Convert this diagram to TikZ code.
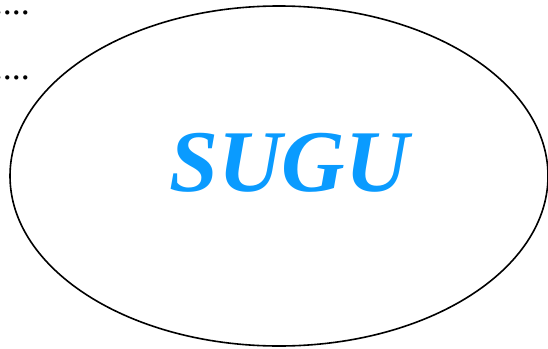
\documentclass[tikz,border=0pt]{standalone}
\usepackage{fontspec}
\setmainfont{Liberation Serif}
\usepackage{xcolor}
\usepackage{tikz}
\usetikzlibrary{positioning}

\definecolor{sugublue}{HTML}{0A9BFF}

\tikzset{
	dots/.style={anchor=base east, inner sep=0pt, font=\fontsize{36}{40}\selectfont},
	title/.style={inner sep=0pt, text=sugublue, font=\fontsize{88}{100}\selectfont\bfseries\itshape}
}

\begin{document}
\begin{tikzpicture}[x=1pt,y=-1pt]
		\useasboundingbox (0,0) rectangle (548,348);

		% Ellipse around the name
		\draw[line width=1.6pt] (279,176) ellipse (269 and 170);
		\node[title] (sugu) at (289,163) {SUGU};

		% Dots at the top left
		\node[dots] (dotsa) at (30,14) {\liningnums{....}};
		\node[dots] (dotsb) at (30,79) {....};
	\end{tikzpicture}
\end{document}
